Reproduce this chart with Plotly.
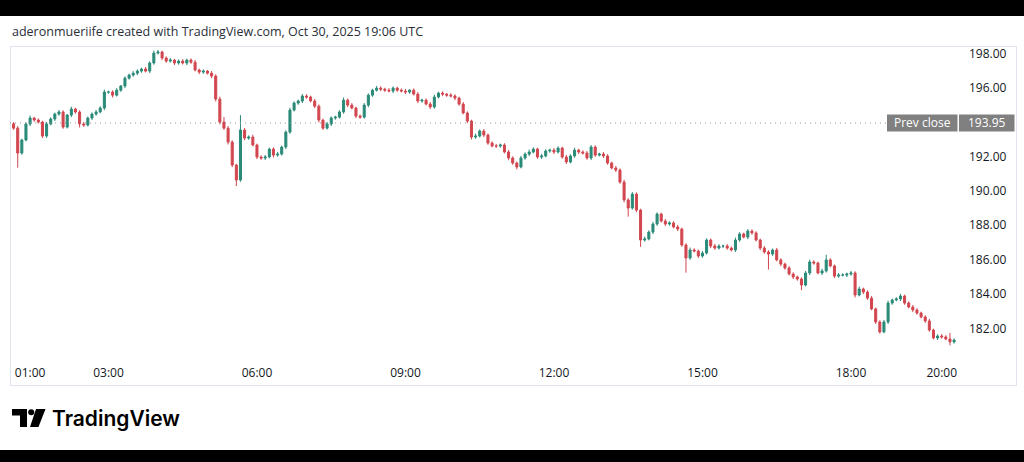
import plotly.graph_objects as go

# ---------------- data ----------------
# 5-minute bars, closes in USD
close = [
    193.65, 192.20, 192.96, 193.89, 194.24, 194.12, 194.00, 193.19, 193.89, 194.18,
    194.47, 194.59, 193.71, 194.41, 194.76, 194.59, 193.89, 193.83, 194.24, 194.47,
    194.59, 194.82, 195.75, 195.75, 195.57, 195.86, 196.10, 196.56, 196.74, 196.85,
    196.97, 197.09, 196.97, 197.44, 198.02, 198.08, 197.73, 197.55, 197.61, 197.44,
    197.55, 197.44, 197.61, 197.49, 197.03, 196.91, 196.97, 196.85, 196.68, 195.34,
    194.00, 193.65, 192.84, 191.50, 190.63, 193.54, 193.07, 193.13, 192.67, 191.97,
    191.91, 191.97, 192.43, 192.08, 192.14, 192.55, 193.42, 194.70, 195.11, 195.23,
    195.52, 195.46, 195.23, 194.93, 194.12, 193.65, 193.89, 194.24, 194.29, 194.59,
    195.28, 194.99, 194.82, 194.35, 194.29, 194.99, 195.57, 195.86, 195.98, 195.92,
    195.86, 195.81, 195.98, 195.86, 195.81, 195.75, 195.86, 195.63, 195.23, 195.28,
    195.05, 194.88, 195.46, 195.69, 195.63, 195.57, 195.52, 195.40, 195.05, 194.53,
    194.06, 193.13, 193.19, 193.48, 193.25, 192.78, 192.61, 192.61, 192.67, 192.26,
    191.91, 191.62, 191.39, 191.91, 192.14, 192.26, 192.43, 191.97, 192.03, 192.32,
    192.37, 192.26, 192.49, 191.97, 191.68, 192.03, 192.37, 192.26, 192.20, 191.91,
    192.55, 192.08, 192.14, 192.03, 191.62, 191.33, 191.21, 190.51, 189.47, 189.00,
    189.81, 188.88, 187.14, 187.20, 187.60, 188.07, 188.65, 188.24, 188.07, 188.13,
    187.90, 187.78, 186.85, 186.09, 186.56, 186.50, 186.21, 186.38, 187.14, 186.79,
    186.67, 186.79, 186.79, 186.67, 186.56, 187.14, 187.49, 187.31, 187.66, 187.55,
    187.14, 186.67, 186.44, 186.32, 186.56, 185.98, 185.74, 185.51, 185.16, 184.99,
    184.87, 184.52, 185.22, 185.86, 185.80, 185.22, 185.34, 185.98, 185.63, 185.04,
    185.10, 185.10, 185.16, 185.22, 183.94, 184.29, 184.11, 183.76, 183.13, 182.37,
    181.79, 182.37, 183.47, 183.65, 183.71, 183.88, 183.47, 183.24, 183.07, 182.89,
    182.66, 182.43, 181.90, 181.44, 181.55, 181.50, 181.38, 181.21, 181.32,
]
# upper / lower wick length beyond the candle body
wick_up = [
    0.10, 0.12, 0.08, 0.10, 0.14, 0.06, 0.10, 0.08, 0.12, 0.10,
    0.08, 0.12, 0.10, 0.06, 0.14, 0.08, 0.10, 0.12, 0.08, 0.10,
    0.12, 0.10, 0.14, 0.08, 0.10, 0.12, 0.06, 0.10, 0.08, 0.12,
    0.10, 0.08, 0.12, 0.10, 0.14, 0.12, 0.08, 0.10, 0.12, 0.06,
    0.10, 0.12, 0.08, 0.10, 0.12, 0.08, 0.10, 0.06, 0.12, 0.10,
    0.14, 0.30, 0.12, 0.10, 0.08, 0.87, 0.12, 0.10, 0.14, 0.08,
    0.10, 0.12, 0.08, 0.10, 0.12, 0.08, 0.10, 0.14, 0.10, 0.08,
    0.12, 0.10, 0.08, 0.12, 0.10, 0.08, 0.12, 0.10, 0.08, 0.10,
    0.15, 0.10, 0.12, 0.08, 0.10, 0.12, 0.10, 0.08, 0.12, 0.10,
    0.08, 0.12, 0.10, 0.08, 0.10, 0.12, 0.06, 0.10, 0.12, 0.08,
    0.10, 0.12, 0.14, 0.08, 0.10, 0.06, 0.12, 0.10, 0.08, 0.12,
    0.10, 0.08, 0.14, 0.10, 0.12, 0.08, 0.10, 0.12, 0.08, 0.10,
    0.12, 0.10, 0.08, 0.12, 0.10, 0.14, 0.10, 0.08, 0.12, 0.10,
    0.08, 0.12, 0.10, 0.08, 0.12, 0.10, 0.14, 0.08, 0.10, 0.12,
    0.12, 0.10, 0.08, 0.12, 0.10, 0.08, 0.12, 0.10, 0.14, 0.10,
    0.12, 0.10, 0.08, 0.14, 0.10, 0.12, 0.10, 0.08, 0.12, 0.10,
    0.10, 0.12, 0.08, 0.10, 0.14, 0.10, 0.08, 0.12, 0.10, 0.08,
    0.12, 0.10, 0.08, 0.12, 0.10, 0.14, 0.10, 0.08, 0.12, 0.10,
    0.10, 0.08, 0.12, 0.10, 0.08, 0.12, 0.10, 0.08, 0.12, 0.10,
    0.08, 0.10, 0.12, 0.14, 0.10, 0.08, 0.12, 0.30, 0.10, 0.08,
    0.12, 0.10, 0.08, 0.12, 0.10, 0.14, 0.08, 0.10, 0.12, 0.08,
    0.10, 0.12, 0.14, 0.08, 0.10, 0.12, 0.08, 0.10, 0.12, 0.10,
    0.08, 0.10, 0.12, 0.08, 0.10, 0.12, 0.10, 0.35, 0.10,
]
wick_dn = [
    0.10, 0.85, 0.10, 0.08, 0.12, 0.10, 0.08, 0.12, 0.10, 0.08,
    0.12, 0.10, 0.10, 0.08, 0.12, 0.10, 0.20, 0.10, 0.08, 0.12,
    0.10, 0.08, 0.12, 0.10, 0.14, 0.08, 0.10, 0.12, 0.08, 0.10,
    0.12, 0.10, 0.08, 0.12, 0.10, 0.08, 0.12, 0.10, 0.08, 0.12,
    0.10, 0.08, 0.12, 0.10, 0.08, 0.12, 0.10, 0.08, 0.12, 0.14,
    0.12, 0.10, 0.14, 0.12, 0.35, 0.10, 0.12, 0.10, 0.08, 0.12,
    0.10, 0.12, 0.08, 0.14, 0.10, 0.08, 0.12, 0.10, 0.08, 0.10,
    0.12, 0.10, 0.08, 0.12, 0.14, 0.10, 0.08, 0.12, 0.10, 0.08,
    0.10, 0.12, 0.08, 0.12, 0.10, 0.08, 0.12, 0.10, 0.08, 0.12,
    0.10, 0.08, 0.12, 0.10, 0.08, 0.12, 0.10, 0.08, 0.12, 0.10,
    0.08, 0.12, 0.10, 0.08, 0.12, 0.10, 0.08, 0.12, 0.10, 0.08,
    0.12, 0.14, 0.10, 0.08, 0.12, 0.10, 0.08, 0.12, 0.10, 0.08,
    0.12, 0.10, 0.14, 0.08, 0.10, 0.12, 0.08, 0.10, 0.12, 0.08,
    0.10, 0.12, 0.08, 0.10, 0.12, 0.08, 0.10, 0.12, 0.08, 0.10,
    0.12, 0.10, 0.08, 0.12, 0.10, 0.08, 0.12, 0.10, 0.14, 0.50,
    0.10, 0.12, 0.40, 0.10, 0.08, 0.12, 0.10, 0.08, 0.12, 0.10,
    0.08, 0.12, 0.10, 0.85, 0.10, 0.08, 0.12, 0.10, 0.08, 0.12,
    0.10, 0.08, 0.12, 0.10, 0.08, 0.12, 0.10, 0.08, 0.12, 0.10,
    0.08, 0.12, 0.10, 0.90, 0.10, 0.08, 0.12, 0.10, 0.08, 0.12,
    0.10, 0.30, 0.08, 0.12, 0.10, 0.08, 0.12, 0.10, 0.08, 0.12,
    0.10, 0.08, 0.12, 0.10, 0.15, 0.08, 0.12, 0.10, 0.08, 0.12,
    0.10, 0.08, 0.12, 0.10, 0.08, 0.12, 0.10, 0.08, 0.12, 0.10,
    0.08, 0.12, 0.10, 0.08, 0.12, 0.10, 0.08, 0.20, 0.10,
]
first_open = 193.90
prev_close = 193.95
price_ticks = [182, 184, 186, 188, 190, 192, 196, 198]
time_labels = ["01:00", "03:00", "06:00", "09:00", "12:00", "15:00", "18:00", "20:00"]
time_tick_bars = [4, 23, 59, 95, 131, 167, 203, 225]

# ---------------- build OHLC ----------------
opens = [first_open] + close[:-1]
highs = [max(o, c) + u for o, c, u in zip(opens, close, wick_up)]
lows = [min(o, c) - d for o, c, d in zip(opens, close, wick_dn)]
bars = list(range(len(close)))

UP = "#2a8a78"
DN = "#d2464f"
TXT = "#131722"
FONT = "Open Sans"

W, H = 1024, 462
L, R, T, B = 10, 958, 46, 362   # plot-area pixel box


def px(xp):
    return (xp - L) / (R - L)


def py(yp):
    return (B - yp) / (B - T)


fig = go.Figure(go.Candlestick(
    x=bars, open=opens, high=highs, low=lows, close=close,
    increasing=dict(line=dict(color=UP, width=1), fillcolor=UP),
    decreasing=dict(line=dict(color=DN, width=1), fillcolor=DN),
    whiskerwidth=0, hoverinfo="skip", showlegend=False,
))

shapes = [
    # black bands of the screenshot
    dict(type="rect", xref="paper", yref="paper", x0=px(-5), x1=px(W + 5),
         y0=py(-5), y1=py(16), fillcolor="black", line=dict(width=0)),
    dict(type="rect", xref="paper", yref="paper", x0=px(-5), x1=px(W + 5),
         y0=py(450), y1=py(H + 5), fillcolor="black", line=dict(width=0)),
    # pane border
    dict(type="rect", xref="paper", yref="paper", x0=px(10.5), x1=px(1016.5),
         y0=py(385.5), y1=py(46.5), line=dict(color="#e0e3eb", width=1),
         fillcolor="rgba(0,0,0,0)", layer="below"),
    # previous close dotted line
    dict(type="line", xref="paper", yref="y", x0=0, x1=px(887),
         y0=prev_close, y1=prev_close,
         line=dict(color="#9598a1", width=1, dash="1px,4px")),
    # prev close label boxes
    dict(type="rect", xref="paper", yref="paper", x0=px(887), x1=px(957.5),
         y0=py(131.5), y1=py(114.5), fillcolor="#808080", line=dict(width=0)),
    dict(type="rect", xref="paper", yref="paper", x0=px(959), x1=px(1014.5),
         y0=py(131.5), y1=py(114.5), fillcolor="#808080", line=dict(width=0)),
]


def path(points):
    s = "M " + " L ".join(f"{px(a):.5f},{py(b):.5f}" for a, b in points) + " Z"
    return s


# TradingView logo mark
shapes += [
    dict(type="path", xref="paper", yref="paper",
         path=path([(12, 409), (27, 409), (27, 427), (20, 427), (20, 415.5), (12, 415.5)]),
         fillcolor="#000000", line=dict(width=0)),
    dict(type="circle", xref="paper", yref="paper", x0=px(28.2), x1=px(34.2),
         y0=py(415.2), y1=py(409.2), fillcolor="#000000", line=dict(width=0)),
    dict(type="path", xref="paper", yref="paper",
         path=path([(36, 409), (45.5, 409), (38.5, 427), (30, 427)]),
         fillcolor="#000000", line=dict(width=0)),
]

annotations = [
    dict(text="aderonmueriife created with TradingView.com, Oct 30, 2025 19:06 UTC",
         xref="paper", yref="paper", x=px(10), y=py(32), xanchor="left", yanchor="middle",
         showarrow=False, font=dict(family=FONT, size=12.5, color="#2a2e39")),
    dict(text="Prev close", xref="paper", yref="paper", x=px(922), y=py(123),
         xanchor="center", yanchor="middle", showarrow=False,
         font=dict(family=FONT, size=12, color="white")),
    dict(text=f"{prev_close:.2f}", xref="paper", yref="paper", x=px(986.7), y=py(123),
         xanchor="center", yanchor="middle", showarrow=False,
         font=dict(family=FONT, size=12, color="white")),
    dict(text="TradingView", xref="paper", yref="paper", x=px(50), y=py(418),
         xanchor="left", yanchor="middle", showarrow=False,
         font=dict(family="Inter", size=21, color="#000000", weight=600)),
]

fig.update_layout(
    width=W, height=H, autosize=False,
    margin=dict(l=L, r=W - R, t=T, b=H - B, pad=0),
    paper_bgcolor="white", plot_bgcolor="white",
    shapes=shapes, annotations=annotations,
    font=dict(family=FONT, size=12, color=TXT),
    xaxis=dict(
        range=[-0.87, 228.95], showgrid=False, zeroline=False, showline=False,
        tickmode="array", tickvals=time_tick_bars, ticktext=time_labels,
        ticks="", ticklabelstandoff=2, tickfont=dict(family=FONT, size=12, color=TXT),
        rangeslider=dict(visible=False), fixedrange=True,
    ),
    yaxis=dict(
        side="right", range=[180.04, 198.43], showgrid=False, zeroline=False,
        showline=False, tickmode="array", tickvals=price_ticks,
        ticktext=[f"{v:.2f}" for v in price_ticks], ticks="",
        ticklabelstandoff=10, tickfont=dict(family=FONT, size=12, color=TXT),
        fixedrange=True,
    ),
)

fig.write_html(
    "out.html",
    config={"displayModeBar": False},
    post_script="document.body.style.margin='0px';document.body.style.overflow='hidden';",
)
